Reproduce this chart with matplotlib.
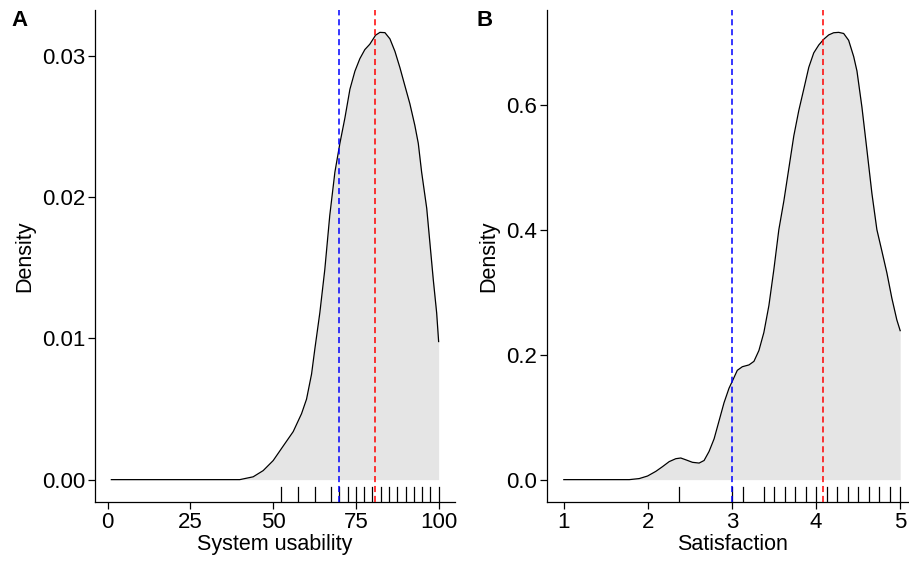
import matplotlib
matplotlib.use("Agg")
import matplotlib.pyplot as plt

plt.rcParams["font.family"] = ["Liberation Sans", "DejaVu Sans"]

# panel A: system usability density
sus_x = [1.1, 39.9, 43.95, 46.98, 50.0, 53.0, 56.05, 58.57, 60.08, 61.6, 62.6,
         64.1, 65.6, 67.1, 68.65, 70.16, 71.67, 73.19, 74.7, 76.2, 77.7, 79.2,
         80.95, 82.26, 83.77, 85.28, 86.8, 88.3, 89.8, 91.3, 92.8, 93.85, 94.86,
         96.4, 97.4, 98.4, 99.4, 100.0]
sus_y = [0.0, 0.0, 0.0002, 0.00064, 0.00135, 0.00237, 0.0034, 0.00467, 0.0057,
         0.00748, 0.00927, 0.01182, 0.01488, 0.01871, 0.02178, 0.02382, 0.02561,
         0.02765, 0.02893, 0.02982, 0.03046, 0.03084, 0.03148, 0.03168, 0.03166,
         0.03122, 0.03033, 0.02918, 0.0279, 0.02663, 0.0251, 0.02382, 0.02178,
         0.01922, 0.01667, 0.01412, 0.01182, 0.00978]
sus_rug = [52.5, 57.5, 62.5, 67.5, 70, 72.5, 75, 77.5, 80, 82.5, 85, 87.5, 90,
           92.5, 95, 97.5, 100]
sus_cut = 70.0
sus_mean = 80.9

# panel B: satisfaction density
sat_x = [1.0, 1.779, 1.897, 1.996, 2.095, 2.174, 2.253, 2.332, 2.391, 2.451,
         2.53, 2.609, 2.668, 2.727, 2.787, 2.846, 2.905, 2.964, 3.004, 3.063,
         3.123, 3.202, 3.261, 3.32, 3.379, 3.439, 3.498, 3.557, 3.617, 3.676,
         3.735, 3.794, 3.854, 3.913, 3.972, 4.032, 4.091, 4.15, 4.209, 4.269,
         4.328, 4.387, 4.447, 4.486, 4.545, 4.605, 4.664, 4.723, 4.783, 4.842,
         4.901, 4.96, 5.0]
sat_y = [0.0, 0.0, 0.0017, 0.0058, 0.0133, 0.0208, 0.0288, 0.0335, 0.0346,
         0.0317, 0.0277, 0.0265, 0.0306, 0.045, 0.0652, 0.094, 0.1229, 0.146,
         0.1575, 0.1748, 0.1806, 0.1835, 0.1892, 0.2065, 0.2354, 0.2786, 0.3363,
         0.3998, 0.446, 0.4979, 0.5498, 0.5902, 0.6248, 0.6594, 0.6825, 0.6952,
         0.7044, 0.7113, 0.7148, 0.7154, 0.7136, 0.7027, 0.6767, 0.6536, 0.5959,
         0.5267, 0.4575, 0.3998, 0.3652, 0.3306, 0.2902, 0.2556, 0.2383]
sat_rug = [2.375, 3.0, 3.125, 3.375, 3.5, 3.625, 3.75, 3.875, 4.0, 4.125, 4.25,
           4.375, 4.5, 4.625, 4.75, 4.875, 5.0]
sat_cut = 3.0
sat_mean = 4.08


def density_panel(ax, x, y, rug, cut, mean, xticks, yticks, yfmt, xlabel):
    ax.fill_between(x, 0, y, color="#e5e5e5", lw=0)
    ax.plot(x, y, color="black", lw=0.9)
    xr = max(x) - min(x)
    yr = max(y) - min(y)
    ax.set_xlim(min(x) - 0.05 * xr, max(x) + 0.05 * xr)
    ax.set_ylim(-0.05 * yr, max(y) + 0.05 * yr)
    # rug, 3% of panel height from the bottom
    for r in rug:
        ax.axvline(r, ymin=0, ymax=0.03, color="black", lw=0.9)
    ax.axvline(cut, color="#0000ff", lw=1.1, ls=(0, (4, 2.5)), zorder=4)
    ax.axvline(mean, color="#ff0000", lw=1.1, ls=(0, (4, 2.5)), zorder=4)
    ax.set_xticks(xticks)
    ax.set_yticks(yticks)
    ax.set_yticklabels([yfmt.format(v) for v in yticks])
    ax.set_xlabel(xlabel, fontsize=15.5, labelpad=1)
    ax.set_ylabel("Density", fontsize=15.5, labelpad=5)
    ax.tick_params(labelsize=16, colors="black", length=5, width=0.9, pad=2)
    for s in ("top", "right"):
        ax.spines[s].set_visible(False)
    for s in ("left", "bottom"):
        ax.spines[s].set_linewidth(0.9)
    return ax


fig = plt.figure(figsize=(9.09, 5.64), dpi=100)
axA = fig.add_axes([95 / 909, 62 / 564, 360 / 909, 492 / 564])
axB = fig.add_axes([547 / 909, 62 / 564, 370 / 909, 492 / 564])

density_panel(axA, sus_x, sus_y, sus_rug, sus_cut, sus_mean,
              [0, 25, 50, 75, 100], [0.0, 0.01, 0.02, 0.03], "{:.2f}",
              "System usability")
density_panel(axB, sat_x, sat_y, sat_rug, sat_cut, sat_mean,
              [1, 2, 3, 4, 5], [0.0, 0.2, 0.4, 0.6], "{:.1f}",
              "Satisfaction")

fig.text(11 / 909, 1 - 20 / 564, "A", fontsize=16, fontweight="bold", va="center")
fig.text(476 / 909, 1 - 20 / 564, "B", fontsize=16, fontweight="bold", va="center")

fig.savefig("out.png", dpi=100)
